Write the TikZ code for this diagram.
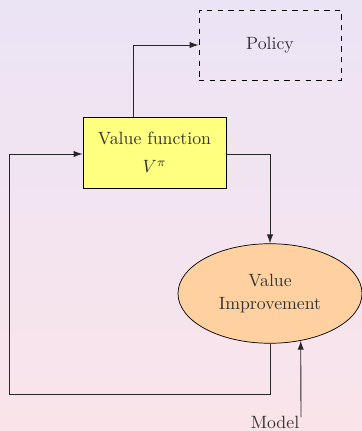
\documentclass[tikz,border=0pt]{standalone}
\usetikzlibrary{shapes.geometric,arrows.meta}
\definecolor{bgtop}{RGB}{235,228,245}
\definecolor{bgbot}{RGB}{250,228,234}
\definecolor{vfyellow}{RGB}{255,255,128}
\definecolor{vipeach}{RGB}{255,208,160}
\definecolor{txt}{RGB}{51,51,51}
\begin{document}
\begin{tikzpicture}[x=0.5625pt,y=-0.5625pt,
  box/.style={draw=black, rectangle, inner sep=0pt, text=txt, align=center},
  conn/.style={draw=black!85, line width=0.5pt},
  arr/.style={conn, -{Latex[length=5pt,width=3.5pt]}}]
\shade[top color=bgtop, bottom color=bgbot] (0,0) rectangle (362,431);
\useasboundingbox (0,0) rectangle (362,431);
\node[box, dashed, minimum width=80pt, minimum height=39.5pt] (policy) at (270,45) {Policy};
\node[box, fill=vfyellow, minimum width=80.5pt, minimum height=40pt] (vf) at (154.5,152.5) {Value function\\[4pt]$V^\pi$};
\node[draw=black, ellipse, fill=vipeach, minimum width=103.5pt, minimum height=56pt, inner sep=0pt, text=txt, align=center] (vi) at (270,293.5) {Value\\[1pt]Improvement};
\node[text=txt, anchor=base] (model) at (275,428) {Model};
\coordinate (mstart) at (301,417);
\coordinate (loopbl) at (9,394);
\draw[arr] (vf.north -| 133,0) |- (policy.west);
\draw[arr] (vf.east |- 0,154) -| (vi.north);
\draw[arr] (vi.south) |- (loopbl) |- (vf.west |- 0,154);
\draw[arr] (mstart) -- (vi.-57);
\end{tikzpicture}
\end{document}
